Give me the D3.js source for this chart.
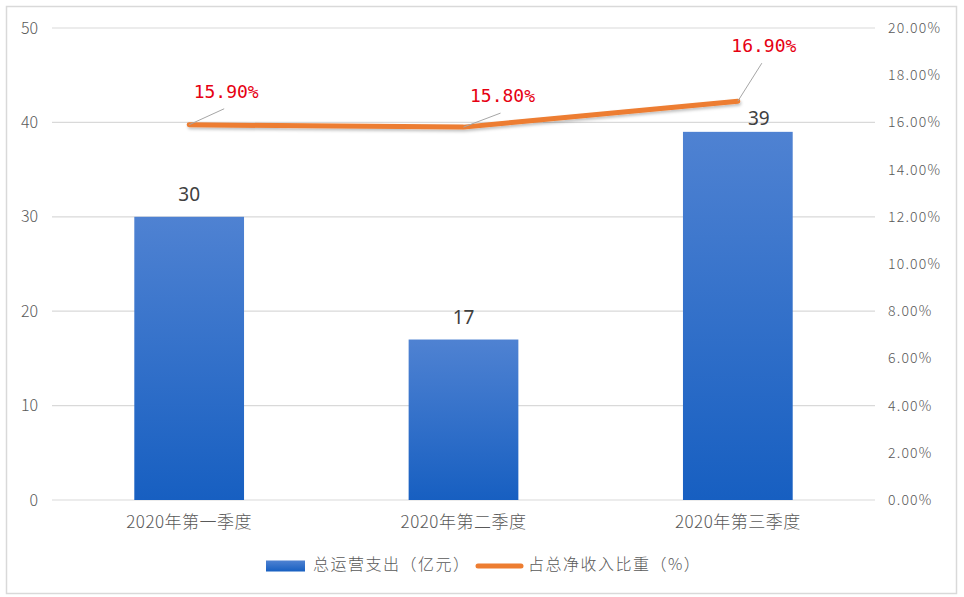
<!DOCTYPE html>
<html>
<head>
<meta charset="utf-8">
<script src="https://cdn.jsdelivr.net/npm/d3@7"></script>
<style>
  body { margin: 0; background: #fff; }
  text { font-family: "Noto Sans CJK SC", "Noto Sans", sans-serif; }
</style>
</head>
<body>
<script>
// data
var categories = ["2020年第一季度", "2020年第二季度", "2020年第三季度"];
var spending = [30, 17, 39];          // 总运营支出（亿元）
var shareOfIncome = [15.9, 15.8, 16.9]; // 占总净收入比重（%）
var leftTicks = [0, 10, 20, 30, 40, 50];
var rightTicks = [0, 2, 4, 6, 8, 10, 12, 14, 16, 18, 20];
var seriesNames = ["总运营支出（亿元）", "占总净收入比重（%）"];

var W = 964, H = 597;
var margin = {top: 28, right: 89, bottom: 97, left: 52},
    width = W - margin.left - margin.right,
    height = H - margin.top - margin.bottom;

var svg = d3.select("body").append("svg")
    .attr("width", W)
    .attr("height", H);

// outer frame
svg.append("rect")
    .attr("x", 6.5).attr("y", 6.5)
    .attr("width", 950).attr("height", 587)
    .attr("fill", "#fff")
    .attr("stroke", "#d9d9d9")
    .attr("stroke-width", 1.5);

var defs = svg.append("defs");
var grad = defs.append("linearGradient")
    .attr("id", "barGrad")
    .attr("x1", 0).attr("y1", 0).attr("x2", 0).attr("y2", 1);
grad.append("stop").attr("offset", "0%").attr("stop-color", "#4f82d2");
grad.append("stop").attr("offset", "100%").attr("stop-color", "#175fc1");

var shadow = defs.append("filter").attr("id", "lineShadow")
    .attr("x", "-10%").attr("y", "-50%").attr("width", "120%").attr("height", "200%");
shadow.append("feDropShadow")
    .attr("dx", 1).attr("dy", 2).attr("stdDeviation", 1.5)
    .attr("flood-color", "#000").attr("flood-opacity", 0.25);

var g = svg.append("g")
    .attr("transform", "translate(" + margin.left + "," + margin.top + ")");

var x = d3.scaleBand()
    .domain(categories)
    .range([0, width])
    .paddingInner(0.6)
    .paddingOuter(0.3);
var y = d3.scaleLinear().domain([0, 50]).range([height, 0]);
var y2 = d3.scaleLinear().domain([0, 20]).range([height, 0]);

// gridlines
g.selectAll(".grid")
    .data(leftTicks)
    .enter().append("line")
    .attr("x1", 0).attr("x2", width)
    .attr("y1", function(d) { return y(d); })
    .attr("y2", function(d) { return y(d); })
    .attr("stroke", "#d9d9d9")
    .attr("stroke-width", 1.2);

// left axis
var yAxis = g.append("g")
    .call(d3.axisLeft(y).tickValues(leftTicks).tickSize(0).tickPadding(14));
yAxis.select(".domain").remove();
yAxis.selectAll("text")
    .style("font-family", "'Noto Sans CJK SC', sans-serif")
    .style("font-weight", 300)
    .style("font-size", "16px")
    .attr("fill", "#595959");

// right axis
var y2Axis = g.append("g")
    .attr("transform", "translate(" + width + ",0)")
    .call(d3.axisRight(y2).tickValues(rightTicks).tickSize(0).tickPadding(13)
        .tickFormat(function(d) { return d.toFixed(2) + "%"; }));
y2Axis.select(".domain").remove();
y2Axis.selectAll("text")
    .style("font-family", "'Noto Sans CJK SC', sans-serif")
    .style("font-weight", 300)
    .style("font-size", "14px")
    .style("letter-spacing", "1.2px")
    .attr("fill", "#595959");

// bottom axis
var xAxis = g.append("g")
    .attr("transform", "translate(0," + height + ")")
    .call(d3.axisBottom(x).tickSize(0).tickPadding(16));
xAxis.select(".domain").remove();
xAxis.selectAll("text")
    .style("font-family", "'Noto Sans CJK SC', sans-serif")
    .style("font-weight", 300)
    .style("font-size", "17px")
    .style("letter-spacing", "0.5px")
    .attr("fill", "#595959");

// bars
g.selectAll(".bar")
    .data(spending)
    .enter().append("rect")
    .attr("class", "bar")
    .attr("x", function(d, i) { return x(categories[i]); })
    .attr("width", x.bandwidth())
    .attr("y", function(d) { return y(d); })
    .attr("height", function(d) { return height - y(d); })
    .attr("fill", "url(#barGrad)");

// bar value labels (third one is nudged right and down, under the line)
var barLabelDx = [0, 0, 21];
var barLabelDy = [-16, -16, -7];
g.selectAll(".barLabel")
    .data(spending)
    .enter().append("text")
    .attr("x", function(d, i) { return x(categories[i]) + x.bandwidth() / 2 + barLabelDx[i]; })
    .attr("y", function(d, i) { return y(d) + barLabelDy[i]; })
    .attr("text-anchor", "middle")
    .style("font-family", "'Noto Sans', sans-serif")
    .style("font-size", "19px")
    .attr("fill", "#404040")
    .text(function(d) { return d; });

// line
var cx = function(i) { return x(categories[i]) + x.bandwidth() / 2; };
var line = d3.line()
    .x(function(d, i) { return cx(i); })
    .y(function(d) { return y2(d); });

g.append("path")
    .datum(shareOfIncome)
    .attr("d", line)
    .attr("fill", "none")
    .attr("stroke", "#ed7d31")
    .attr("stroke-width", 5)
    .attr("stroke-linecap", "round")
    .attr("stroke-linejoin", "round")
    .attr("filter", "url(#lineShadow)");

// line labels with leader lines
var labelOffset = [[37, -32], [39, -30], [26, -54]];
g.selectAll(".leader")
    .data(shareOfIncome)
    .enter().append("line")
    .attr("x1", function(d, i) { return cx(i); })
    .attr("y1", function(d) { return y2(d); })
    .attr("x2", function(d, i) { return cx(i) + labelOffset[i][0] - 2; })
    .attr("y2", function(d, i) { return y2(d) + labelOffset[i][1] + 16; })
    .attr("stroke", "#a6a6a6")
    .attr("stroke-width", 1);

g.selectAll(".lineLabel")
    .data(shareOfIncome)
    .enter().append("text")
    .attr("x", function(d, i) { return cx(i) + labelOffset[i][0]; })
    .attr("y", function(d, i) { return y2(d) + labelOffset[i][1]; })
    .attr("text-anchor", "middle")
    .attr("dominant-baseline", "middle")
    .style("font-family", "'DejaVu Sans Mono', monospace")
    .style("font-size", "18px")
    .style("font-weight", 500)
    .attr("fill", "#e60012")
    .text(function(d) { return d.toFixed(2) + "%"; });

// legend
var legend = svg.append("g").attr("transform", "translate(266,566)");
legend.append("rect")
    .attr("x", 0).attr("y", -5.5)
    .attr("width", 39).attr("height", 11)
    .attr("fill", "url(#barGrad)");
legend.append("text")
    .attr("x", 47).attr("y", 0)
    .attr("dominant-baseline", "middle")
    .style("font-weight", 300)
    .style("font-size", "16px")
    .style("letter-spacing", "1.5px")
    .attr("fill", "#595959")
    .text(seriesNames[0]);
legend.append("line")
    .attr("x1", 212).attr("x2", 255)
    .attr("y1", 0).attr("y2", 0)
    .attr("stroke", "#ed7d31")
    .attr("stroke-width", 5)
    .attr("stroke-linecap", "round");
legend.append("text")
    .attr("x", 262).attr("y", 0)
    .attr("dominant-baseline", "middle")
    .style("font-weight", 300)
    .style("font-size", "16px")
    .style("letter-spacing", "1.5px")
    .attr("fill", "#595959")
    .text(seriesNames[1]);
</script>
</body>
</html>
